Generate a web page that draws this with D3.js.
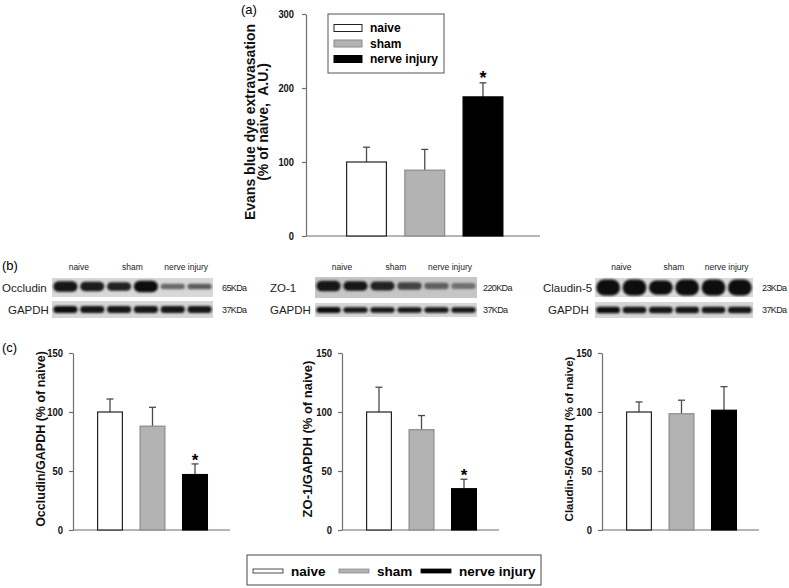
<!DOCTYPE html>
<html><head><meta charset="utf-8">
<script src="https://cdn.jsdelivr.net/npm/d3@7"></script>
<style>body{margin:0;background:#fff}svg{display:block}</style>
</head><body>
<svg id="c" width="789" height="588"></svg>
<script>
// ---------------- data ----------------
const groups = ["naive", "sham", "nerve injury"];
const evansMean = [100, 89, 188];
const evansErr  = [20, 28, 19];
const evansSig  = [false, false, true];
const evansTicks = [0, 100, 200, 300];

const occludinMean = [100, 88, 47];
const occludinErr  = [11, 16, 9];
const occludinSig  = [false, false, true];
const zo1Mean = [100, 85, 35];
const zo1Err  = [21, 12, 8];
const zo1Sig  = [false, false, true];
const claudinMean = [100, 98.5, 101.5];
const claudinErr  = [8.5, 11.5, 20];
const claudinSig  = [false, false, false];
const ratioTicks = [0, 50, 100, 150];

// western blot band darkness (0..1) and relative thickness, 6 lanes (2 per group)
const occludinBandK = [0.95, 0.9, 0.88, 1.0, 0.55, 0.6];
const occludinBandH = [0.55, 0.5, 0.45, 0.6, 0.28, 0.3];
const zo1BandK = [0.95, 0.92, 0.88, 0.7, 0.55, 0.45];
const zo1BandH = [0.5, 0.45, 0.42, 0.35, 0.3, 0.28];
const claudinBandK = [1, 1, 1, 1, 1, 1];
const claudinBandH = [0.85, 0.85, 0.75, 0.85, 0.85, 0.85];
const gapdhBandK = [0.97, 0.95, 0.95, 0.95, 0.95, 0.95];
const gapdhBandH = [0.42, 0.4, 0.4, 0.4, 0.4, 0.4];
const blotKDa = ["65KDa", "220KDa", "23KDa"];

// ---------------- setup ----------------
const svg = d3.select("#c");
const FONT = "'Liberation Sans', Arial, sans-serif";
const color = d3.scaleOrdinal(groups, ["#ffffff", "#b3b3b3", "#000000"]);
const stroke = d3.scaleOrdinal(groups, ["#222", "#8a8a8a", "#000"]);

const defs = svg.append("defs");
defs.append("filter").attr("id", "blur").attr("x", "-20%").attr("y", "-60%").attr("width", "140%").attr("height", "220%")
  .append("feGaussianBlur").attr("stdDeviation", 1.3);

function squash(sel, k) {
  sel.each(function () {
    const L = this.getComputedTextLength();
    this.setAttribute("textLength", L * k);
    this.setAttribute("lengthAdjust", "spacingAndGlyphs");
  });
}

function barChart(o) {
  const g = svg.append("g");
  const y = d3.scaleLinear([0, o.max], [o.y0, o.yTop]);
  const x = d3.scaleBand(groups, o.xr).paddingInner(o.pi).paddingOuter(o.pi / 2);
  const data = groups.map((k, i) => ({ k, m: o.mean[i], e: o.err[i], s: o.sig[i] }));

  // axes
  const ax = g.append("g").attr("transform", `translate(${o.axisX},0)`)
    .call(d3.axisLeft(y).tickValues(o.ticks).tickSize(4).tickSizeOuter(0).tickPadding(o.tickPad));
  ax.select(".domain").attr("stroke", "#6e6e6e").attr("stroke-width", 1.2);
  ax.selectAll(".tick line").attr("stroke", "#6e6e6e").attr("stroke-width", 1.2);
  ax.selectAll(".tick text").attr("font-family", FONT).attr("font-weight", "bold")
    .attr("font-size", o.tickSize).attr("fill", "#111").call(squash, o.tickSquash);
  g.append("line").attr("x1", o.axisX).attr("x2", o.axisEnd).attr("y1", y(0)).attr("y2", y(0))
    .attr("stroke", "#6e6e6e").attr("stroke-width", 1.2);

  // error bars (upper only)
  const cap = 3.5;
  const eb = g.selectAll(".eb").data(data).join("g");
  eb.append("line").attr("x1", d => x(d.k) + x.bandwidth() / 2).attr("x2", d => x(d.k) + x.bandwidth() / 2)
    .attr("y1", d => y(d.m)).attr("y2", d => y(d.m + d.e)).attr("stroke", "#4a4a4a").attr("stroke-width", 1.3);
  eb.append("line").attr("x1", d => x(d.k) + x.bandwidth() / 2 - cap).attr("x2", d => x(d.k) + x.bandwidth() / 2 + cap)
    .attr("y1", d => y(d.m + d.e)).attr("y2", d => y(d.m + d.e)).attr("stroke", "#4a4a4a").attr("stroke-width", 1.3);

  // bars
  g.selectAll(".bar").data(data).join("rect")
    .attr("x", d => x(d.k) + 0.6).attr("width", x.bandwidth() - 1.2)
    .attr("y", d => y(d.m)).attr("height", d => y(0) - y(d.m))
    .attr("fill", d => color(d.k)).attr("stroke", d => stroke(d.k)).attr("stroke-width", 1.2);

  // significance stars
  g.selectAll(".star").data(data.filter(d => d.s)).join("text")
    .attr("x", d => x(d.k) + x.bandwidth() / 2).attr("y", d => y(d.m + d.e) + o.starDy)
    .attr("text-anchor", "middle").attr("font-family", FONT).attr("font-weight", "bold")
    .attr("font-size", o.starSize).text("*");

  // y title
  const t = g.append("text").attr("transform", `translate(${o.titleX},${o.titleY}) rotate(-90)`)
    .attr("text-anchor", "middle").attr("font-family", FONT).attr("font-weight", "bold")
    .attr("font-size", o.titleSize).attr("fill", "#111");
  o.title.forEach((line, i) => t.append("tspan").attr("x", 0).attr("dy", i === 0 ? (-(o.title.length - 1) * o.titleLead) : o.titleLead).text(line));
  return { g, x, y };
}

// ---------------- panel (a) ----------------
svg.append("text").attr("x", 241).attr("y", 14).attr("font-family", FONT).attr("font-size", 13).text("(a)");
barChart({
  mean: evansMean, err: evansErr, sig: evansSig, max: 300, ticks: evansTicks,
  y0: 236, yTop: 14, axisX: 306, axisEnd: 540, xr: [337.4, 512.1], pi: 0.296,
  tickSize: 11, tickSquash: 0.85, tickPad: 8, starSize: 18, starDy: 1,
  title: ["Evans blue dye extravasation", "(% of naive,\u00a0 A.U.)"], titleX: 268, titleY: 122, titleSize: 14, titleLead: 13.5
});
// legend (a)
const lgA = svg.append("g");
lgA.append("rect").attr("x", 328).attr("y", 14).attr("width", 116).attr("height", 59)
  .attr("fill", "#fff").attr("stroke", "#555").attr("stroke-width", 1);
const lgRows = lgA.selectAll(".r").data(groups).join("g")
  .attr("transform", (d, i) => `translate(334,${28 + i * 15.5})`);
lgRows.append("rect").attr("x", 0).attr("y", -3.5).attr("width", 28).attr("height", 7)
  .attr("fill", d => color(d)).attr("stroke", d => stroke(d)).attr("stroke-width", 1);
lgRows.append("text").attr("x", 36).attr("dy", "0.36em").attr("font-family", FONT).attr("font-weight", "bold")
  .attr("font-size", 12).text(d => d);

// ---------------- panel (b) blots ----------------
svg.append("text").attr("x", 2).attr("y", 270).attr("font-family", FONT).attr("font-size", 13).text("(b)");

function blot(o) {
  const g = svg.append("g");
  const x = d3.scaleBand(d3.range(6), [o.x0, o.x1]);
  const strips = [
    { y0: o.top[0], y1: o.top[1], bg: o.topBg, k: o.bandK, h: o.bandH, off: o.topOff, name: o.name, nx: o.nameX, kda: o.kda },
    { y0: o.bot[0], y1: o.bot[1], bg: "#d6d6d6", k: gapdhBandK, h: gapdhBandH, off: 0, name: "GAPDH", nx: o.gapdhX, kda: "37KDa" }
  ];
  strips.forEach(st => {
    const hh = st.y1 - st.y0, cy = (st.y0 + st.y1) / 2 + st.off;
    g.append("rect").attr("x", o.x0).attr("y", st.y0).attr("width", o.x1 - o.x0).attr("height", hh).attr("fill", st.bg);
    g.selectAll(null).data(d3.range(6)).join("rect")
      .attr("x", i => x(i) + x.bandwidth() * 0.05).attr("width", x.bandwidth() * 0.9)
      .attr("y", i => cy - st.h[i] * hh / 2).attr("height", i => st.h[i] * hh)
      .attr("rx", i => st.h[i] * hh / 2)
      .attr("fill", i => d3.interpolateRgb(st.bg, "#0a0a0a")(st.k[i]))
      .attr("filter", "url(#blur)");
    g.append("text").attr("x", st.nx).attr("y", (st.y0 + st.y1) / 2).attr("dy", "0.36em")
      .attr("font-family", FONT).attr("font-size", 11.5).attr("fill", "#222").text(st.name);
    g.append("text").attr("x", o.kdaX).attr("y", (st.y0 + st.y1) / 2).attr("dy", "0.36em")
      .attr("font-family", FONT).attr("font-size", 9).attr("letter-spacing", -0.6).attr("fill", "#222").text(st.kda);
  });
  g.selectAll(".ll").data(groups).join("text")
    .attr("x", (d, i) => x(2 * i) + x.bandwidth()).attr("y", 270)
    .attr("text-anchor", "middle").attr("font-family", FONT).attr("font-size", 8.5).attr("fill", "#222").text(d => d);
}
blot({ x0: 52, x1: 213, top: [278, 297], bot: [301, 318], topBg: "#d8d8d8", topOff: -1,
  bandK: occludinBandK, bandH: occludinBandH, name: "Occludin", nameX: 2, gapdhX: 8, kda: blotKDa[0], kdaX: 222 });
blot({ x0: 315, x1: 477, top: [277, 298], bot: [303, 317], topBg: "#c6c6c6", topOff: -1.5,
  bandK: zo1BandK, bandH: zo1BandH, name: "ZO-1", nameX: 270, gapdhX: 270, kda: blotKDa[1], kdaX: 483 });
blot({ x0: 595, x1: 753, top: [278, 297], bot: [302, 318], topBg: "#d9d9d9", topOff: 0,
  bandK: claudinBandK, bandH: claudinBandH, name: "Claudin-5", nameX: 543, gapdhX: 548, kda: blotKDa[2], kdaX: 762 });

// ---------------- panel (c) ----------------
svg.append("text").attr("x", 2).attr("y", 352).attr("font-family", FONT).attr("font-size", 13).text("(c)");
const cCharts = [
  { axisX: 73, mean: occludinMean, err: occludinErr, sig: occludinSig, title: ["Occludin/GAPDH (% of naive)"], titleX: 45, titleSize: 12.5 },
  { axisX: 342, mean: zo1Mean, err: zo1Err, sig: zo1Sig, title: ["ZO-1/GAPDH (% of naive)"], titleX: 312, titleSize: 13 },
  { axisX: 602, mean: claudinMean, err: claudinErr, sig: claudinSig, title: ["Claudin-5/GAPDH (% of naive)"], titleX: 573, titleSize: 11.5 }
];
cCharts.forEach(c => barChart(Object.assign({
  max: 150, ticks: ratioTicks, y0: 530, yTop: 353, axisEnd: c.axisX + 157,
  xr: [c.axisX + 15.75, c.axisX + 143.25], pi: 0.388,
  tickSize: 10.5, tickSquash: 0.9, tickPad: 6, starSize: 17, starDy: 2,
  titleY: 439, titleLead: 0
}, c)));

// ---------------- bottom legend ----------------
const lgB = svg.append("g");
lgB.append("rect").attr("x", 247).attr("y", 555).attr("width", 294).attr("height", 30)
  .attr("fill", "#fff").attr("stroke", "#666").attr("stroke-width", 1.2);
const lgBx = [253, 339, 421];
const lgBItems = lgB.selectAll(".i").data(groups).join("g")
  .attr("transform", (d, i) => `translate(${lgBx[i]},571)`);
lgBItems.append("rect").attr("x", 0).attr("y", -2).attr("width", 30).attr("height", 4)
  .attr("fill", d => color(d)).attr("stroke", d => stroke(d)).attr("stroke-width", 0.8);
lgBItems.append("text").attr("x", 38).attr("dy", "0.36em").attr("font-family", FONT).attr("font-weight", "bold")
  .attr("font-size", 13.5).text(d => d);
</script>
</body></html>
